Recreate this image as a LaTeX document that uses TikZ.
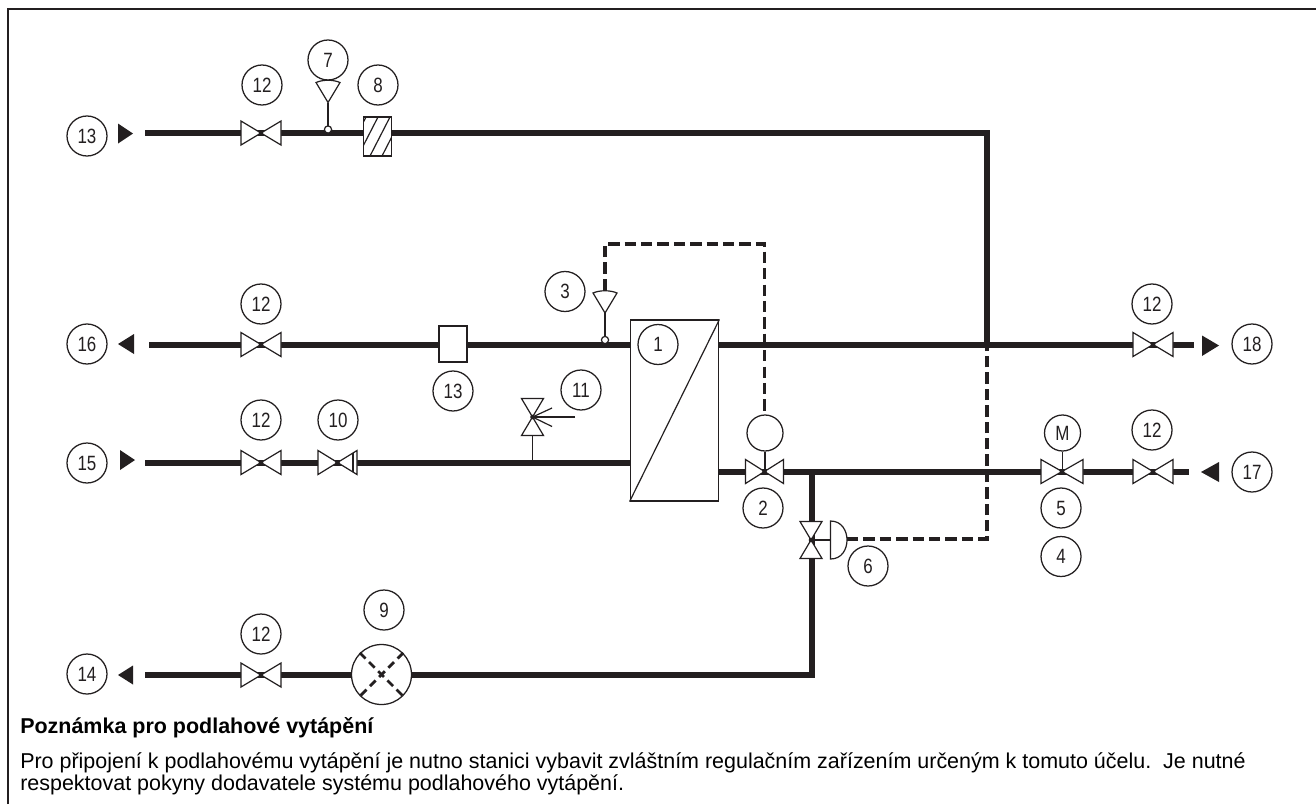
\documentclass[tikz,border=0pt]{standalone}
\usepackage{fontspec}
\setmainfont{Liberation Sans}
\newfontfamily\tagfont[FakeStretch=0.82]{Liberation Sans}
\definecolor{ink}{HTML}{231F20}
\tikzset{
  x=0.75pt,y=-0.75pt,
  pipe/.style={line width=4.5pt,draw=ink,line cap=butt},
  ctrl/.style={line width=2.3pt,draw=ink,dash pattern=on 8.5pt off 3.8pt},
  thin line/.style={line width=0.9pt,draw=ink},
  tag/.style={circle,draw=ink,line width=0.95pt,minimum size=30pt,inner sep=0pt,font=\tagfont\fontsize{15.5}{17}\selectfont,text=ink},
  boxed/.style={draw=ink,line width=0.9pt,fill=white},
  flow/.style={fill=ink,draw=none},
  notetext/.style={anchor=base west,inner sep=0pt,text=black,font=\fontsize{16.1}{18}\selectfont},
  pumpdash/.style={line width=2.1pt,draw=ink,dash pattern=on 6pt off 3.75pt},
  pics/valveh/.style={code={
    \draw[boxed,line join=miter] (-#1,-12) -- (#1,12) -- (#1,-12) -- (-#1,12) -- cycle;
    \fill[ink] (0,0) circle (2.3);
  }},
  pics/valvev/.style={code={
    \draw[boxed,line join=miter] (-11,-18.5) -- (11,18.5) -- (-11,18.5) -- (11,-18.5) -- cycle;
    \fill[ink] (0,0) circle (2.3);
  }},
  pics/sensor/.style={code={
    \draw[thin line] (0,0) -- (0,-27);
    \draw[boxed] (-12,-47) .. controls (-5,-50) and (5,-50) .. (12,-47) -- (0,-27) -- cycle;
    \draw[boxed] (0,0) circle (3.6);
  }}
}
\begin{document}
\begin{tikzpicture}
\useasboundingbox (0,0) rectangle (1316,804);
\fill[white] (0,0) rectangle (1316,804);
\draw[line width=1pt,draw=ink] (8,804) -- (8,9) -- (1316,9);

% anchors
\coordinate (a1) at (145,133); \coordinate (a2) at (987,133); \coordinate (a3) at (987,344);
\coordinate (b1) at (149,344.5); \coordinate (b2) at (630,344.5); \coordinate (b3) at (719,344.5); \coordinate (b4) at (1194,344.5);
\coordinate (c1) at (145,462.5); \coordinate (c2) at (630,462.5);
\coordinate (d1) at (719,471.5); \coordinate (d2) at (1189,471.5); \coordinate (d3) at (811.5,471.5);
\coordinate (e1) at (145,675); \coordinate (e2) at (811.5,675);

% pipes
\draw[pipe,line join=miter] (a1) -- (a2) -- (a3);
\draw[pipe] (b1) -- (b2);
\draw[pipe] (b3) -- (b4);
\draw[pipe] (c1) -- (c2);
\draw[pipe] (d1) -- (d2);
\draw[pipe,line join=miter] (e1) -- (e2) -- (d3);

% control lines
\coordinate (s3) at (605,290); \coordinate (q1) at (605,244); \coordinate (q2) at (764.5,244); \coordinate (q3) at (764.5,415);
\draw[ctrl] (s3) -- (q1) -- (q2) -- (q3);
\coordinate (r1) at (847,539); \coordinate (r2) at (987,539);
\draw[ctrl] (r1) -- (r2) -- (a3);

% heat exchanger
\node[boxed,minimum width=66.5pt,minimum height=135.75pt,inner sep=0pt] (hx) at (674.5,410.5) {};
\draw[thin line] (hx.north east) -- (hx.south west);

% valves on horizontal pipes
\foreach \x/\y in {261/133,261/344.5,261/462.5,261/675,1153/344.5,1153/471.5}
  \pic at (\x,\y) {valveh=20};
\pic at (764.5,471.5) {valveh=19};
\pic at (1062,471.5) {valveh=21};

% valve 10
\pic (v10) at (337.5,462.5) {valveh=19.5};
\draw[thin line] (353,453) -- (353,472);

% sensors
\pic at (328,129.5) {sensor};
\pic at (605,340) {sensor};

% filter 8
\node[boxed,minimum width=20.5pt,minimum height=29pt,inner sep=0pt] (f8) at (377.5,136.5) {};
\begin{scope}
  \clip (364,117) rectangle (391,156);
  \foreach \k in {-18,-6,6,18,30}
    \draw[thin line] (364+\k,156) -- (364+\k+20,117);
\end{scope}
\draw[draw=ink,line width=0.9pt] (f8.north west) rectangle (f8.south east);

% box 13
\node[boxed,minimum width=21pt,minimum height=27pt,inner sep=0pt] (b13) at (453,344) {};

% motors and actuators
\node[circle,draw=ink,line width=0.95pt,minimum size=27pt,inner sep=0pt,fill=white] (m2) at (765,433) {};
\draw[thin line] (m2.south) -- (765,471.5);
\node[circle,draw=ink,line width=0.95pt,minimum size=27pt,inner sep=0pt,fill=white,font=\tagfont\fontsize{15.5}{17}\selectfont,text=ink] (m5) at (1062.5,433) {M};
\draw[thin line] (m5.south) -- (1062.5,471.5);

% valve 11
\coordinate (v11) at (532.5,417);
\draw[thin line] (532.5,435) -- (532.5,462);
\pic at (v11) {valvev};
\coordinate (ar) at (575,417);
\draw[thin line] (ar) -- (v11);
\draw[thin line] (552,408) -- (v11) -- (552,426.5);

% valve 6
\coordinate (v6) at (811,540);
\pic at (v6) {valvev};
\draw[thin line] (v6) -- (830.5,540);
\draw[boxed] (830.5,521) .. controls (842,521) and (847,531) .. (847,540) .. controls (847,549) and (842,559) .. (830.5,559) -- cycle;

% pump 9
\node[circle,draw=ink,line width=0.95pt,minimum size=45pt,inner sep=0pt,fill=white] (p9) at (381.5,674.5) {};
\draw[pumpdash] (p9.north west) -- (p9.south east);
\draw[pumpdash] (p9.north east) -- (p9.south west);

% flow arrows
\fill[flow] (118,123.5) -- (133,133.5) -- (118,143.5) -- cycle;
\fill[flow] (134,334) -- (118,344) -- (134,354) -- cycle;
\fill[flow] (120,450) -- (135,460) -- (120,470) -- cycle;
\fill[flow] (133,665.5) -- (118,675) -- (133,684.5) -- cycle;
\fill[flow] (1202,335.5) -- (1219,345.5) -- (1202,356) -- cycle;
\fill[flow] (1219,462) -- (1201,472) -- (1219,482) -- cycle;

% tags
\node[tag] (t13a) at (87,136) {13};
\node[tag] (t12a) at (262,85) {12};
\node[tag] (t7) at (328,60) {7};
\node[tag] (t8) at (378,85) {8};
\node[tag] (t3) at (565,291.5) {3};
\node[tag] (t16) at (87,344) {16};
\node[tag] (t12b) at (261,304) {12};
\node[tag] (t1) at (658,344.5) {1};
\node[tag] (t13b) at (453,391) {13};
\node[tag] (t11) at (581,390) {11};
\node[tag] (t15) at (87,463) {15};
\node[tag] (t12c) at (261,420) {12};
\node[tag] (t10) at (338,420) {10};
\node[tag] (t2) at (763,508) {2};
\node[tag] (t6) at (868,566) {6};
\node[tag] (t5) at (1061,508) {5};
\node[tag] (t4) at (1061,556.5) {4};
\node[tag] (t12d) at (1152,304) {12};
\node[tag] (t12e) at (1152,430) {12};
\node[tag] (t18) at (1252,344) {18};
\node[tag] (t17) at (1252,472) {17};
\node[tag] (t14) at (87,674) {14};
\node[tag] (t12f) at (261,634) {12};
\node[tag] (t9) at (384,610) {9};

% note
\node[notetext,font=\fontsize{16.1}{18}\selectfont\bfseries] (n0) at (20,733) {Poznámka pro podlahové vytápění};
\node[notetext] (n1) at (20,768) {Pro připojení k podlahovému vytápění je nutno stanici vybavit zvláštním regulačním zařízením určeným k tomuto účelu.\ \ Je nutné};
\node[notetext] (n2) at (20,790) {respektovat pokyny dodavatele systému podlahového vytápění.};
\end{tikzpicture}
\end{document}
